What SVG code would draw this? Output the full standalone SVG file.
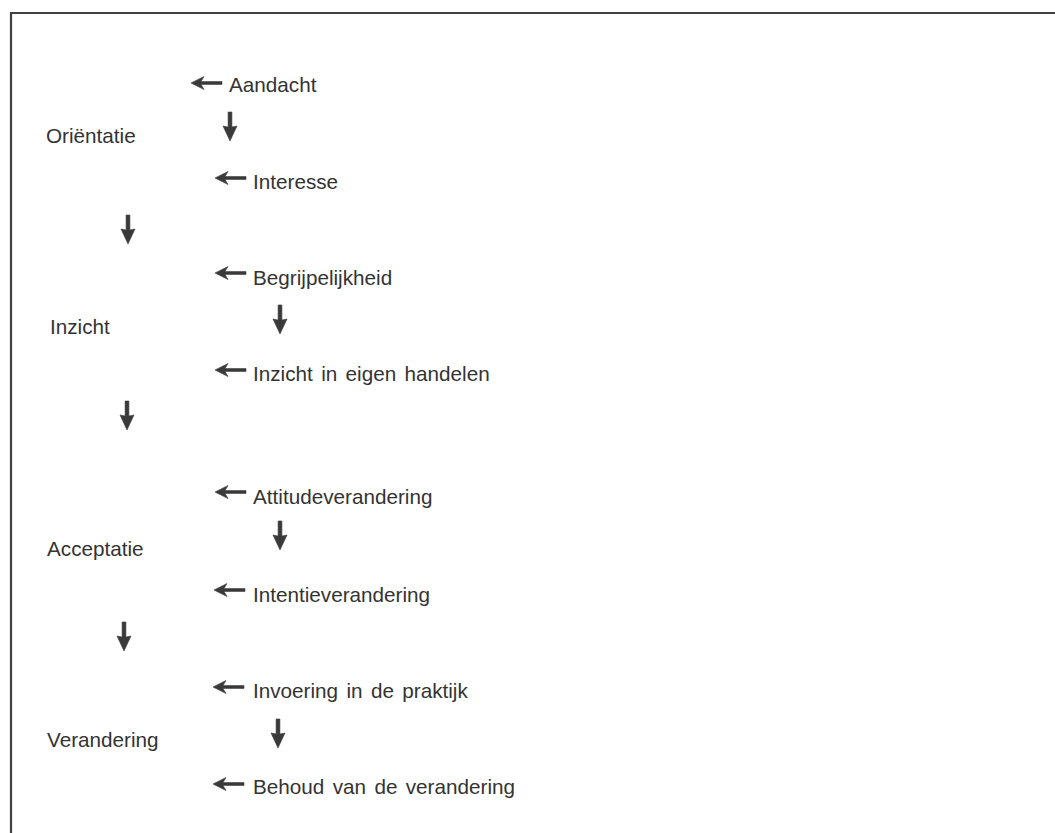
<svg xmlns="http://www.w3.org/2000/svg" width="1055" height="833" viewBox="0 0 1055 833">
<style>
.t{font-family:"Liberation Sans",Arial,sans-serif;font-size:20.7px;fill:#333}
.w{word-spacing:2.6px}
.a{fill:#3a3a3a;stroke:#3a3a3a;stroke-width:0.6;stroke-linejoin:round}
</style>
<defs>
<path id="la" d="M0,0 L13,-6.5 L10,-1.4 L31,-1.4 L31,1.4 L10,1.4 L13,6.5 Z"/>
<path id="da" d="M-1.9,0 L1.9,0 L1.9,15 L7,14 L0,29 L-7,14 L-1.9,15 Z"/>
</defs>
<rect x="0" y="0" width="1055" height="833" fill="#fff"/>
<path d="M11,840 L11,13 L1060,13" stroke="#404040" stroke-width="2.2" fill="none"/>
<g id="phases">
<g id="orientatie"><text class="t" x="46" y="143">Oriëntatie</text></g>
<g id="inzicht"><text class="t" x="50" y="334">Inzicht</text></g>
<g id="acceptatie"><text class="t" x="47" y="556">Acceptatie</text></g>
<g id="verandering"><text class="t" x="47" y="747">Verandering</text></g>
</g>
<g id="steps">
<g id="aandacht"><text class="t" x="229" y="92">Aandacht</text></g>
<g id="interesse"><text class="t" x="253" y="189">Interesse</text></g>
<g id="begrijpelijkheid"><text class="t" x="253" y="285">Begrijpelijkheid</text></g>
<g id="inzicht-handelen"><text class="t w" x="253" y="381">Inzicht in eigen handelen</text></g>
<g id="attitude"><text class="t" x="253" y="504">Attitudeverandering</text></g>
<g id="intentie"><text class="t" x="253" y="602">Intentieverandering</text></g>
<g id="invoering"><text class="t w" x="253" y="698">Invoering in de praktijk</text></g>
<g id="behoud"><text class="t w" x="253" y="794">Behoud van de verandering</text></g>
</g>
<g id="connectors" class="a">
<use href="#la" x="191" y="83"/>
<use href="#la" x="215" y="178"/>
<use href="#la" x="215" y="273"/>
<use href="#la" x="215" y="370"/>
<use href="#la" x="215" y="492"/>
<use href="#la" x="214" y="590"/>
<use href="#la" x="213" y="687"/>
<use href="#la" x="213" y="784"/>
<use href="#da" x="230" y="112"/>
<use href="#da" x="128" y="215"/>
<use href="#da" x="280" y="305"/>
<use href="#da" x="127" y="401"/>
<use href="#da" x="280" y="521"/>
<use href="#da" x="124" y="622"/>
<use href="#da" x="278" y="719"/>
</g>
</svg>
